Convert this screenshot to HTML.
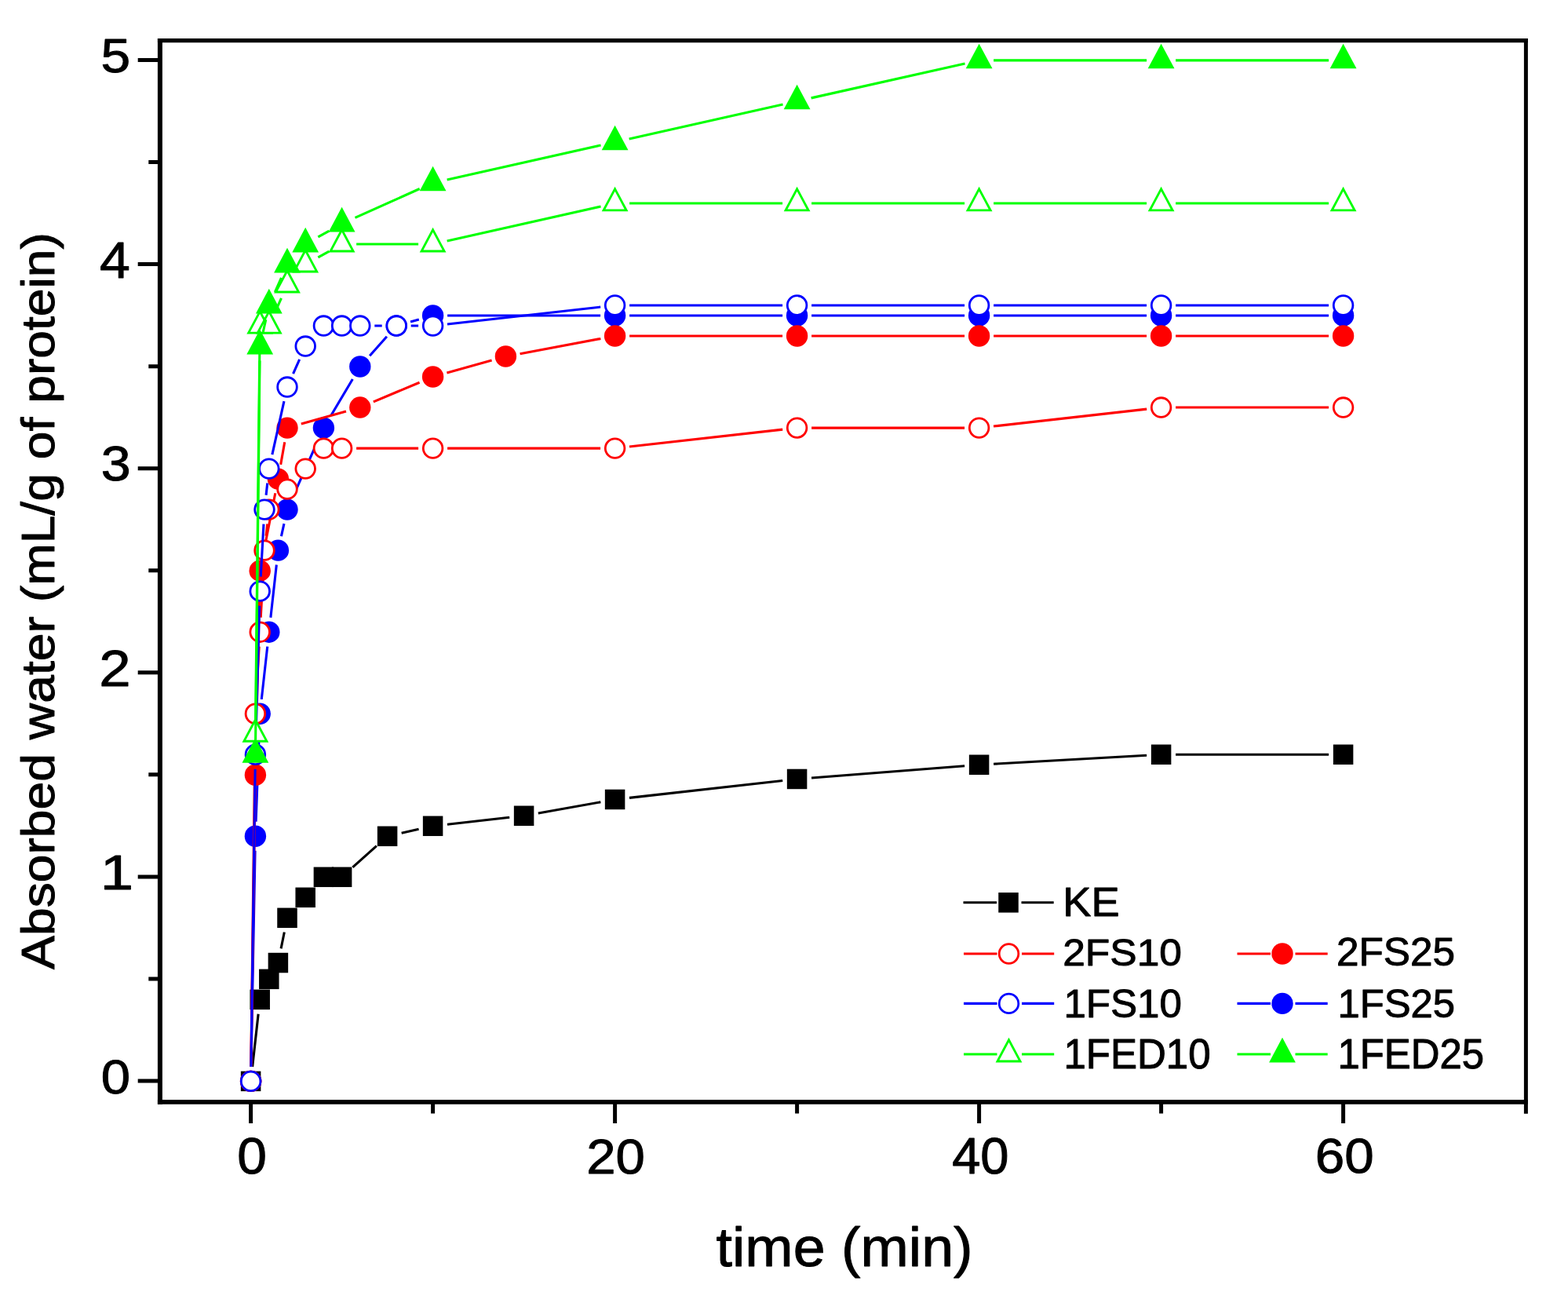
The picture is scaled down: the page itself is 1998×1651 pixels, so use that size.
<!DOCTYPE html>
<html><head><meta charset="utf-8"><title>Absorbed water vs time</title>
<style>html,body{margin:0;padding:0;background:#fff;}body{width:1998px;height:1651px;overflow:hidden}svg{display:block}</style></head>
<body><svg width="1998" height="1651" viewBox="0 0 1998 1651" font-family="'Liberation Sans', Arial, sans-serif">
<g stroke="#000" fill="none" stroke-linecap="butt">
<path d="M203.9 49.1V1406.8" stroke-width="6"/>
<path d="M200.9 1403.9H1946.9" stroke-width="5.8"/>
<path d="M200.9 51.7H1946.9" stroke-width="5.2"/>
<path d="M1944.4 49.1V1403.9" stroke-width="5"/>
<path d="M203.9 1377H175.7M203.9 1116.9H175.7M203.9 856.8H175.7M203.9 596.7H175.7M203.9 336.6H175.7M203.9 76.5H175.7M203.9 1246.95H189.3M203.9 986.85H189.3M203.9 726.75H189.3M203.9 466.65H189.3M203.9 206.55H189.3M319.6 1403.9V1431M783.6 1403.9V1431M1247.6 1403.9V1431M1711.6 1403.9V1431M551.6 1403.9V1418.5M1015.6 1403.9V1418.5M1479.6 1403.9V1418.5M1944.4 1403.9V1418.7" stroke-width="5"/>
</g>
<path d="M321.65 1359.01L329.15 1291.75M358.08 1208.41L362.32 1187.45M449.37 1104.95L479.83 1077.63M511.65 1061.23L533.55 1056.32M569.98 1050.21L649.22 1041.33M685.81 1036L765.39 1021.73M801.98 1016.4L997.22 994.51M1034.04 991L1229.16 975.69M1266.07 973.21L1461.13 962.28M1498.1 961.24L1693.1 961.24" stroke="#000000" stroke-width="3.1" fill="none"/>
<rect x="306.85" y="1364.65" width="25.5" height="25.5" fill="#000000"/>
<rect x="318.45" y="1260.61" width="25.5" height="25.5" fill="#000000"/>
<rect x="330.05" y="1234.6" width="25.5" height="25.5" fill="#000000"/>
<rect x="341.65" y="1213.79" width="25.5" height="25.5" fill="#000000"/>
<rect x="353.25" y="1156.57" width="25.5" height="25.5" fill="#000000"/>
<rect x="376.45" y="1130.56" width="25.5" height="25.5" fill="#000000"/>
<rect x="399.65" y="1104.55" width="25.5" height="25.5" fill="#000000"/>
<rect x="422.85" y="1104.55" width="25.5" height="25.5" fill="#000000"/>
<rect x="480.85" y="1052.53" width="25.5" height="25.5" fill="#000000"/>
<rect x="538.85" y="1039.53" width="25.5" height="25.5" fill="#000000"/>
<rect x="654.85" y="1026.52" width="25.5" height="25.5" fill="#000000"/>
<rect x="770.85" y="1005.71" width="25.5" height="25.5" fill="#000000"/>
<rect x="1002.85" y="979.7" width="25.5" height="25.5" fill="#000000"/>
<rect x="1234.85" y="961.5" width="25.5" height="25.5" fill="#000000"/>
<rect x="1466.85" y="948.49" width="25.5" height="25.5" fill="#000000"/>
<rect x="1698.85" y="948.49" width="25.5" height="25.5" fill="#000000"/>
<path d="M319.94 1358.9L325.06 1083.78M326.09 1046.79L330.51 927.71M333.25 890.83L340.75 823.57M344.85 786.79L352.35 719.53M358.43 683.08L361.97 667.18M373.54 632.22L404.86 561.98M421.86 529.18L449.34 482.95M471.11 453.24L492.89 428.84M523.01 410.04L533.79 407.02M570.1 402.02L765.1 402.02M802.1 402.02L997.1 402.02M1034.1 402.02L1229.1 402.02M1266.1 402.02L1461.1 402.02M1498.1 402.02L1693.1 402.02" stroke="#0000ff" stroke-width="3.1" fill="none"/>
<circle cx="319.6" cy="1377.4" r="13.7" fill="#0000ff"/>
<circle cx="325.4" cy="1065.28" r="13.7" fill="#0000ff"/>
<circle cx="331.2" cy="909.22" r="13.7" fill="#0000ff"/>
<circle cx="342.8" cy="805.18" r="13.7" fill="#0000ff"/>
<circle cx="354.4" cy="701.14" r="13.7" fill="#0000ff"/>
<circle cx="366" cy="649.12" r="13.7" fill="#0000ff"/>
<circle cx="412.4" cy="545.08" r="13.7" fill="#0000ff"/>
<circle cx="458.8" cy="467.05" r="13.7" fill="#0000ff"/>
<circle cx="505.2" cy="415.03" r="13.7" fill="#0000ff"/>
<circle cx="551.6" cy="402.02" r="13.7" fill="#0000ff"/>
<circle cx="783.6" cy="402.02" r="13.7" fill="#0000ff"/>
<circle cx="1015.6" cy="402.02" r="13.7" fill="#0000ff"/>
<circle cx="1247.6" cy="402.02" r="13.7" fill="#0000ff"/>
<circle cx="1479.6" cy="402.02" r="13.7" fill="#0000ff"/>
<circle cx="1711.6" cy="402.02" r="13.7" fill="#0000ff"/>
<path d="M319.87 1358.9L325.13 1005.75M325.81 968.75L330.79 745.65M334.8 709L350.8 628.25M357.65 591.89L362.75 563.29M383.81 540.09L440.99 524.06M475.85 511.9L534.55 487.22M569.41 475.06L626.59 459.04M662.59 450.65L765.41 431.43M802.1 428.04L997.1 428.04M1034.1 428.04L1229.1 428.04M1266.1 428.04L1461.1 428.04M1498.1 428.04L1693.1 428.04" stroke="#ff0000" stroke-width="3.1" fill="none"/>
<circle cx="319.6" cy="1377.4" r="13.7" fill="#ff0000"/>
<circle cx="325.4" cy="987.25" r="13.7" fill="#ff0000"/>
<circle cx="331.2" cy="727.15" r="13.7" fill="#ff0000"/>
<circle cx="354.4" cy="610.11" r="13.7" fill="#ff0000"/>
<circle cx="366" cy="545.08" r="13.7" fill="#ff0000"/>
<circle cx="458.8" cy="519.07" r="13.7" fill="#ff0000"/>
<circle cx="551.6" cy="480.05" r="13.7" fill="#ff0000"/>
<circle cx="644.4" cy="454.05" r="13.7" fill="#ff0000"/>
<circle cx="783.6" cy="428.04" r="13.7" fill="#ff0000"/>
<circle cx="1015.6" cy="428.04" r="13.7" fill="#ff0000"/>
<circle cx="1247.6" cy="428.04" r="13.7" fill="#ff0000"/>
<circle cx="1479.6" cy="428.04" r="13.7" fill="#ff0000"/>
<circle cx="1711.6" cy="428.04" r="13.7" fill="#ff0000"/>
<path d="M319.83 1358.9L325.17 927.72M326.43 890.75L330.17 823.65M332.23 786.71L335.97 719.61M339.05 682.75L340.75 667.51M454.1 571.09L533.1 571.09M570.1 571.09L765.1 571.09M801.98 569.03L997.22 547.14M1034.1 545.08L1229.1 545.08M1265.98 543.02L1461.22 521.13M1498.1 519.07L1693.1 519.07" stroke="#ff0000" stroke-width="3.1" fill="none"/>
<circle cx="319.6" cy="1377.4" r="12.3" fill="#fff" stroke="#ff0000" stroke-width="2.8"/>
<circle cx="325.4" cy="909.22" r="12.3" fill="#fff" stroke="#ff0000" stroke-width="2.8"/>
<circle cx="331.2" cy="805.18" r="12.3" fill="#fff" stroke="#ff0000" stroke-width="2.8"/>
<circle cx="337" cy="701.14" r="12.3" fill="#fff" stroke="#ff0000" stroke-width="2.8"/>
<circle cx="342.8" cy="649.12" r="12.3" fill="#fff" stroke="#ff0000" stroke-width="2.8"/>
<circle cx="366" cy="623.11" r="12.3" fill="#fff" stroke="#ff0000" stroke-width="2.8"/>
<circle cx="389.2" cy="597.1" r="12.3" fill="#fff" stroke="#ff0000" stroke-width="2.8"/>
<circle cx="412.4" cy="571.09" r="12.3" fill="#fff" stroke="#ff0000" stroke-width="2.8"/>
<circle cx="435.6" cy="571.09" r="12.3" fill="#fff" stroke="#ff0000" stroke-width="2.8"/>
<circle cx="551.6" cy="571.09" r="12.3" fill="#fff" stroke="#ff0000" stroke-width="2.8"/>
<circle cx="783.6" cy="571.09" r="12.3" fill="#fff" stroke="#ff0000" stroke-width="2.8"/>
<circle cx="1015.6" cy="545.08" r="12.3" fill="#fff" stroke="#ff0000" stroke-width="2.8"/>
<circle cx="1247.6" cy="545.08" r="12.3" fill="#fff" stroke="#ff0000" stroke-width="2.8"/>
<circle cx="1479.6" cy="519.07" r="12.3" fill="#fff" stroke="#ff0000" stroke-width="2.8"/>
<circle cx="1711.6" cy="519.07" r="12.3" fill="#fff" stroke="#ff0000" stroke-width="2.8"/>
<path d="M319.86 1358.9L325.14 979.74M325.92 942.75L330.68 771.65M332.23 734.69L335.97 667.59M339.05 630.73L340.75 615.49M346.83 579.04L361.97 511.12M373.54 476.16L381.66 457.94M477.3 415.03L486.7 415.03M523.7 415.03L533.1 415.03M569.98 412.97L765.22 391.08M802.1 389.02L997.1 389.02M1034.1 389.02L1229.1 389.02M1266.1 389.02L1461.1 389.02M1498.1 389.02L1693.1 389.02" stroke="#0000ff" stroke-width="3.1" fill="none"/>
<circle cx="319.6" cy="1377.4" r="12.3" fill="#fff" stroke="#0000ff" stroke-width="2.8"/>
<circle cx="325.4" cy="961.24" r="12.3" fill="#fff" stroke="#0000ff" stroke-width="2.8"/>
<circle cx="331.2" cy="753.16" r="12.3" fill="#fff" stroke="#0000ff" stroke-width="2.8"/>
<circle cx="337" cy="649.12" r="12.3" fill="#fff" stroke="#0000ff" stroke-width="2.8"/>
<circle cx="342.8" cy="597.1" r="12.3" fill="#fff" stroke="#0000ff" stroke-width="2.8"/>
<circle cx="366" cy="493.06" r="12.3" fill="#fff" stroke="#0000ff" stroke-width="2.8"/>
<circle cx="389.2" cy="441.04" r="12.3" fill="#fff" stroke="#0000ff" stroke-width="2.8"/>
<circle cx="412.4" cy="415.03" r="12.3" fill="#fff" stroke="#0000ff" stroke-width="2.8"/>
<circle cx="435.6" cy="415.03" r="12.3" fill="#fff" stroke="#0000ff" stroke-width="2.8"/>
<circle cx="458.8" cy="415.03" r="12.3" fill="#fff" stroke="#0000ff" stroke-width="2.8"/>
<circle cx="505.2" cy="415.03" r="12.3" fill="#fff" stroke="#0000ff" stroke-width="2.8"/>
<circle cx="551.6" cy="415.03" r="12.3" fill="#fff" stroke="#0000ff" stroke-width="2.8"/>
<circle cx="783.6" cy="389.02" r="12.3" fill="#fff" stroke="#0000ff" stroke-width="2.8"/>
<circle cx="1015.6" cy="389.02" r="12.3" fill="#fff" stroke="#0000ff" stroke-width="2.8"/>
<circle cx="1247.6" cy="389.02" r="12.3" fill="#fff" stroke="#0000ff" stroke-width="2.8"/>
<circle cx="1479.6" cy="389.02" r="12.3" fill="#fff" stroke="#0000ff" stroke-width="2.8"/>
<circle cx="1711.6" cy="389.02" r="12.3" fill="#fff" stroke="#0000ff" stroke-width="2.8"/>
<path d="M325.61 916.73L330.99 433.53M350.34 398.13L358.46 379.91M405.34 327.95L419.46 320.04M454.1 310.99L533.1 310.99M569.65 306.94L765.55 263.02M802.1 258.97L997.1 258.97M1034.1 258.97L1229.1 258.97M1266.1 258.97L1461.1 258.97M1498.1 258.97L1693.1 258.97" stroke="#00ff00" stroke-width="3.1" fill="none"/>
<polygon points="325.4,917 310.84,944.23 339.96,944.23" fill="#fff" stroke="#00ff00" stroke-width="2.8"/>
<polygon points="331.2,396.8 316.64,424.03 345.76,424.03" fill="#fff" stroke="#00ff00" stroke-width="2.8"/>
<polygon points="342.8,396.8 328.24,424.03 357.36,424.03" fill="#fff" stroke="#00ff00" stroke-width="2.8"/>
<polygon points="366,344.78 351.44,372.01 380.56,372.01" fill="#fff" stroke="#00ff00" stroke-width="2.8"/>
<polygon points="389.2,318.77 374.64,346 403.76,346" fill="#fff" stroke="#00ff00" stroke-width="2.8"/>
<polygon points="435.6,292.76 421.04,319.99 450.16,319.99" fill="#fff" stroke="#00ff00" stroke-width="2.8"/>
<polygon points="551.6,292.76 537.04,319.99 566.16,319.99" fill="#fff" stroke="#00ff00" stroke-width="2.8"/>
<polygon points="783.6,240.74 769.04,267.97 798.16,267.97" fill="#fff" stroke="#00ff00" stroke-width="2.8"/>
<polygon points="1015.6,240.74 1001.04,267.97 1030.16,267.97" fill="#fff" stroke="#00ff00" stroke-width="2.8"/>
<polygon points="1247.6,240.74 1233.04,267.97 1262.16,267.97" fill="#fff" stroke="#00ff00" stroke-width="2.8"/>
<polygon points="1479.6,240.74 1465.04,267.97 1494.16,267.97" fill="#fff" stroke="#00ff00" stroke-width="2.8"/>
<polygon points="1711.6,240.74 1697.04,267.97 1726.16,267.97" fill="#fff" stroke="#00ff00" stroke-width="2.8"/>
<path d="M325.61 942.74L330.99 459.54M335.23 422.98L338.77 407.08M350.34 372.12L358.46 353.9M405.34 301.94L419.46 294.03M452.48 277.41L534.72 240.53M569.65 228.91L765.55 184.99M801.65 176.89L997.55 132.97M1033.65 124.87L1229.55 80.95M1266.1 76.9L1461.1 76.9M1498.1 76.9L1693.1 76.9" stroke="#00ff00" stroke-width="3.1" fill="none"/>
<polygon points="325.4,940.04 308.5,971.64 342.3,971.64" fill="#00ff00"/>
<polygon points="331.2,419.84 314.3,451.44 348.1,451.44" fill="#00ff00"/>
<polygon points="342.8,367.82 325.9,399.42 359.7,399.42" fill="#00ff00"/>
<polygon points="366,315.8 349.1,347.4 382.9,347.4" fill="#00ff00"/>
<polygon points="389.2,289.79 372.3,321.39 406.1,321.39" fill="#00ff00"/>
<polygon points="435.6,263.78 418.7,295.38 452.5,295.38" fill="#00ff00"/>
<polygon points="551.6,211.76 534.7,243.36 568.5,243.36" fill="#00ff00"/>
<polygon points="783.6,159.74 766.7,191.34 800.5,191.34" fill="#00ff00"/>
<polygon points="1015.6,107.72 998.7,139.32 1032.5,139.32" fill="#00ff00"/>
<polygon points="1247.6,55.7 1230.7,87.3 1264.5,87.3" fill="#00ff00"/>
<polygon points="1479.6,55.7 1462.7,87.3 1496.5,87.3" fill="#00ff00"/>
<polygon points="1711.6,55.7 1694.7,87.3 1728.5,87.3" fill="#00ff00"/>
<path d="M1227.5 1149.8H1270M1301.5 1149.8H1342.7" stroke="#000000" stroke-width="3.1"/><rect x="1272.25" y="1137.05" width="25.5" height="25.5" fill="#000000"/>
<path d="M1228 1215H1270.5M1302 1215H1343.2" stroke="#ff0000" stroke-width="3.1"/><circle cx="1285.5" cy="1215" r="12.3" fill="#fff" stroke="#ff0000" stroke-width="2.8"/>
<path d="M1576.5 1215H1619M1650.5 1215H1691.7" stroke="#ff0000" stroke-width="3.1"/><circle cx="1634" cy="1215" r="13.7" fill="#ff0000"/>
<path d="M1228 1278.4H1270.5M1302 1278.4H1343.2" stroke="#0000ff" stroke-width="3.1"/><circle cx="1285.5" cy="1278.4" r="12.3" fill="#fff" stroke="#0000ff" stroke-width="2.8"/>
<path d="M1576.5 1278.4H1619M1650.5 1278.4H1691.7" stroke="#0000ff" stroke-width="3.1"/><circle cx="1634" cy="1278.4" r="13.7" fill="#0000ff"/>
<path d="M1228 1343H1270.5M1302 1343H1343.2" stroke="#00ff00" stroke-width="3.1"/><polygon points="1285.5,1324.77 1270.94,1352 1300.06,1352" fill="#fff" stroke="#00ff00" stroke-width="2.8"/>
<path d="M1576.5 1343H1619M1650.5 1343H1691.7" stroke="#00ff00" stroke-width="3.1"/><polygon points="1634,1321.8 1617.1,1353.4 1650.9,1353.4" fill="#00ff00"/>
<g fill="#000" stroke="#000" stroke-linejoin="round"><text transform="translate(128.72 1393.38) scale(0.6708 0.6155)" font-size="100" stroke-width="1.55">0</text><text transform="translate(127.7 1132.9) scale(0.7604 0.6319)" font-size="100" stroke-width="1.44">1</text><text transform="translate(126.37 874) scale(0.7261 0.6400)" font-size="100" stroke-width="1.46">2</text><text transform="translate(128.68 611.97) scale(0.6809 0.6310)" font-size="100" stroke-width="1.52">3</text><text transform="translate(126.9 353.8) scale(0.6980 0.6543)" font-size="100" stroke-width="1.48">4</text><text transform="translate(128.59 91.94) scale(0.6771 0.6150)" font-size="100" stroke-width="1.55">5</text><text transform="translate(302.29 1495.26) scale(0.6771 0.6408)" font-size="100" stroke-width="1.52">0</text><text transform="translate(747.24 1494.87) scale(0.6716 0.6338)" font-size="100" stroke-width="1.53">20</text><text transform="translate(1213.2 1495.16) scale(0.6505 0.6408)" font-size="100" stroke-width="1.55">40</text><text transform="translate(1675.83 1494.26) scale(0.6735 0.6352)" font-size="100" stroke-width="1.53">60</text><text transform="translate(912.56 1613.37) scale(0.7359 0.6968)" font-size="100" stroke-width="1.40">time (min)</text><text transform="translate(69.09 1234.9) rotate(-90) scale(0.6423 0.5957)" font-size="100" stroke-width="1.62">Absorbed water (mL/g of protein)</text><text transform="translate(1354.36 1167.4) scale(0.5421 0.5116)" font-size="100" stroke-width="1.90">KE</text><text transform="translate(1354.22 1229.71) scale(0.5150 0.4901)" font-size="100" stroke-width="1.99">2FS10</text><text transform="translate(1355.39 1295.69) scale(0.5110 0.5056)" font-size="100" stroke-width="1.97">1FS10</text><text transform="translate(1355.4 1360.57) scale(0.5105 0.5296)" font-size="100" stroke-width="1.92">1FED10</text><text transform="translate(1702.93 1230.2) scale(0.5133 0.5042)" font-size="100" stroke-width="1.97">2FS25</text><text transform="translate(1704.42 1295.8) scale(0.5082 0.5042)" font-size="100" stroke-width="1.98">1FS25</text><text transform="translate(1704.41 1360.77) scale(0.5091 0.5282)" font-size="100" stroke-width="1.93">1FED25</text></g>
</svg></body></html>
